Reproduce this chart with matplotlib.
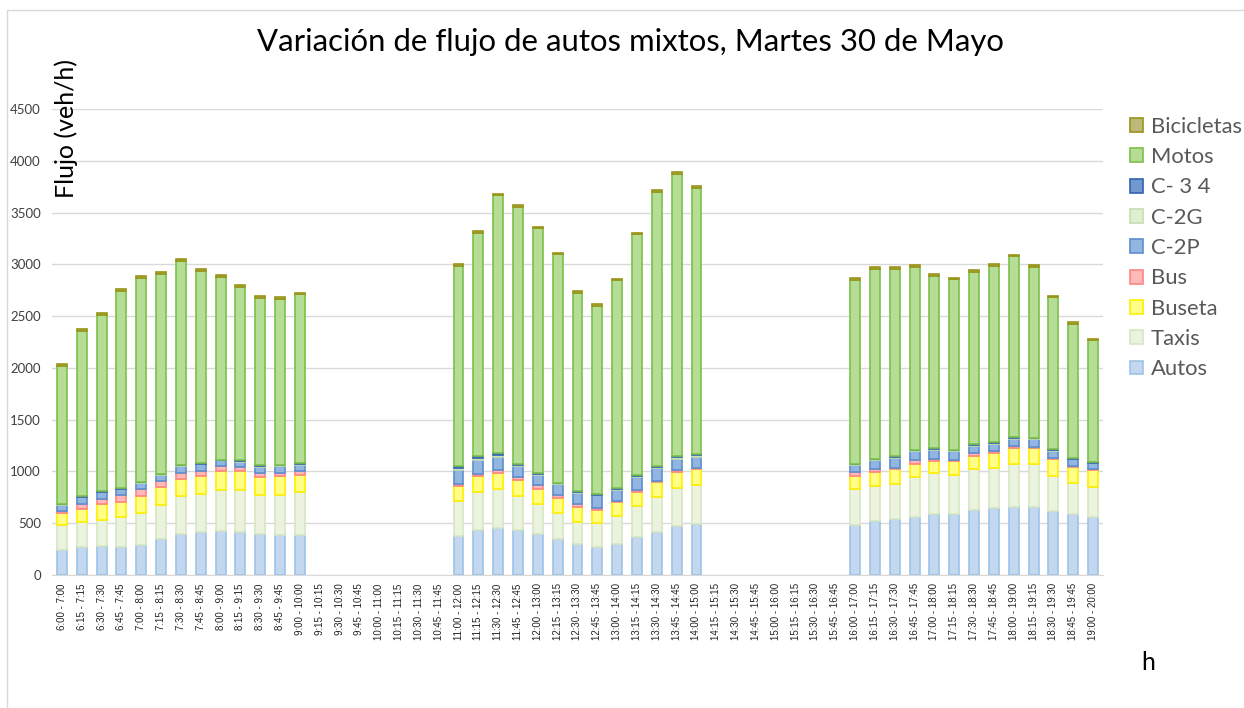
import matplotlib
matplotlib.use('Agg')
import matplotlib.pyplot as plt
import matplotlib.patches as mpatches
import numpy as np

# 15-min sliding one-hour intervals, 6:00 - 20:00
starts = ['6:00', '6:15', '6:30', '6:45', '7:00', '7:15', '7:30', '7:45', '8:00', '8:15', '8:30', '8:45',
          '9:00', '9:15', '9:30', '9:45', '10:00', '10:15', '10:30', '10:45', '11:00', '11:15', '11:30', '11:45',
          '12:00', '12:15', '12:30', '12:45', '13:00', '13:15', '13:30', '13:45', '14:00', '14:15', '14:30', '14:45',
          '15:00', '15:15', '15:30', '15:45', '16:00', '16:15', '16:30', '16:45', '17:00', '17:15', '17:30', '17:45',
          '18:00', '18:15', '18:30', '18:45', '19:00']
ends = ['7:00', '7:15', '7:30', '7:45', '8:00', '8:15', '8:30', '8:45', '9:00', '9:15', '9:30', '9:45',
        '10:00', '10:15', '10:30', '10:45', '11:00', '11:15', '11:30', '11:45', '12:00', '12:15', '12:30', '12:45',
        '13:00', '13:15', '13:30', '13:45', '14:00', '14:15', '14:30', '14:45', '15:00', '15:15', '15:30', '15:45',
        '16:00', '16:15', '16:30', '16:45', '17:00', '17:15', '17:30', '17:45', '18:00', '18:15', '18:30', '18:45',
        '19:00', '19:15', '19:30', '19:45', '20:00']
labels = [s + ' - ' + e for s, e in zip(starts, ends)]

# intervals that were counted
counted = ['6:00', '6:15', '6:30', '6:45', '7:00', '7:15', '7:30', '7:45', '8:00', '8:15', '8:30', '8:45', '9:00',
           '11:00', '11:15', '11:30', '11:45', '12:00', '12:15', '12:30', '12:45', '13:00', '13:15', '13:30', '13:45', '14:00',
           '16:00', '16:15', '16:30', '16:45', '17:00', '17:15', '17:30', '17:45', '18:00', '18:15', '18:30', '18:45', '19:00']

autos = [240, 266, 276, 272, 288, 343, 397, 417, 426, 417, 397, 388, 388,
         375, 436, 455, 436, 397, 343, 298, 272, 304, 369, 420, 471, 494,
         487, 522, 538, 561, 593, 593, 625, 651, 657, 657, 615, 593, 561]
taxis = [244, 247, 259, 289, 311, 333, 366, 368, 398, 407, 375, 384, 410,
         340, 365, 375, 330, 289, 256, 218, 231, 270, 301, 333, 372, 378,
         343, 340, 340, 381, 391, 372, 394, 384, 414, 414, 340, 295, 288]
buseta = [115, 122, 151, 147, 164, 173, 160, 170, 176, 176, 177, 183, 167,
          144, 154, 154, 154, 144, 148, 141, 128, 128, 134, 148, 151, 147,
          125, 135, 141, 132, 119, 134, 132, 145, 153, 153, 164, 154, 161]
bus = [23, 54, 48, 61, 64, 58, 58, 51, 51, 42, 32, 32, 35,
       22, 23, 26, 29, 42, 29, 29, 20, 13, 20, 9, 16, 16,
       39, 22, 19, 32, 19, 13, 29, 22, 26, 16, 12, 12, 9]
c2p = [51, 61, 64, 58, 58, 58, 67, 64, 55, 54, 61, 64, 67,
       135, 128, 128, 102, 96, 102, 109, 118, 109, 121, 122, 109, 109,
       67, 93, 93, 93, 86, 87, 67, 67, 61, 71, 71, 65, 61]
c2g = [8, 8, 8, 8, 10, 8, 10, 6, 5, 8, 10, 10, 8,
       22, 26, 22, 15, 10, 8, 8, 6, 7, 10, 10, 20, 16,
       8, 8, 10, 5, 10, 7, 8, 10, 12, 8, 7, 5, 6]
c34 = [5, 5, 5, 5, 6, 5, 6, 4, 4, 5, 6, 6, 5,
       17, 19, 16, 8, 6, 5, 5, 4, 5, 7, 6, 12, 10,
       5, 5, 6, 4, 6, 5, 8, 6, 7, 5, 6, 4, 4]
motos = [1336, 1590, 1697, 1898, 1965, 1925, 1968, 1856, 1763, 1672, 1620, 1595, 1630,
         1927, 2152, 2492, 2475, 2363, 2206, 1919, 1822, 2009, 2328, 2655, 2718, 2569,
         1773, 1834, 1812, 1769, 1668, 1646, 1663, 1702, 1746, 1654, 1466, 1293, 1175]
bicicletas = [20, 18, 18, 22, 18, 20, 16, 16, 16, 16, 16, 18, 16,
              18, 20, 16, 22, 18, 16, 18, 18, 16, 16, 16, 18, 16,
              18, 18, 18, 20, 18, 14, 16, 16, 14, 16, 16, 18, 16]

series = [
    ('Autos', autos, '#c3d8ef', '#9dc3e6'),
    ('Taxis', taxis, '#ebf3df', '#d6e6c3'),
    ('Buseta', buseta, '#ffff88', '#ffee00'),
    ('Bus', bus, '#ffb9b9', '#ff8585'),
    ('C-2P', c2p, '#93b6e0', '#5b8fd0'),
    ('C-2G', c2g, '#e0eed2', '#c6dfae'),
    ('C- 3 4', c34, '#7199d0', '#2f62b0'),
    ('Motos', motos, '#b5dd96', '#7cc14a'),
    ('Bicicletas', bicicletas, '#bdb978', '#9a9418'),
]

x = np.array([starts.index(s) for s in counted])
width = 0.5
font = ['Lato', 'DejaVu Sans']

fig = plt.figure(figsize=(12.44, 7.08), dpi=100)
ax = fig.add_axes([52 / 1244, 1 - 575 / 708, (1103 - 52) / 1244, (575 - 109) / 708])

bottom = np.zeros(len(counted))
handles = []
for name, vals, fc, ec in series:
    vals = np.array(vals, dtype=float)
    b = ax.bar(x, vals, width, bottom=bottom, color=fc, edgecolor=ec, linewidth=1.2, label=name, zorder=3)
    handles.append(b)
    bottom += vals

ax.set_xlim(-0.5, len(labels) - 0.5)
ax.set_ylim(0, 4500)
ax.set_yticks(np.arange(0, 4501, 500))
ax.set_xticks(np.arange(len(labels)))
ax.set_xticklabels(labels, rotation=90, fontsize=7, color='#222222', family=['Liberation Sans', 'DejaVu Sans'])
ax.tick_params(axis='y', labelsize=9.5, colors='#404040', length=0, pad=8)
ax.tick_params(axis='x', length=0, pad=6)
for t in ax.get_yticklabels():
    t.set_family(font)
ax.grid(axis='y', color='#d9d9d9', linewidth=1, zorder=0)
for s in ['top', 'right', 'left']:
    ax.spines[s].set_visible(False)
ax.spines['bottom'].set_color('#d9d9d9')

fig.text(630 / 1244, 1 - 42 / 708, 'Variación de flujo de autos mixtos, Martes 30 de Mayo',
         ha='center', va='center', fontsize=22.4, family=font)
fig.text(66 / 1244, 1 - 128 / 708, 'Flujo (veh/h)', rotation=90, ha='center', va='center',
         fontsize=18, family=font)
fig.text(1148 / 1244, 1 - 662 / 708, 'h', ha='center', va='center', fontsize=18, family=font)

fig.legend(handles=handles[::-1], loc='upper left', bbox_to_anchor=(1110 / 1244, 1 - 97 / 708),
           frameon=False, labelspacing=0.47, handlelength=0.6, handleheight=0.6,
           handletextpad=0.35, labelcolor='#595959', prop={'family': font, 'size': 15.8})

# chart area border
fig.patches.append(mpatches.Rectangle((7 / 1244, -0.02), 1.1, 1 - 10 / 708 + 0.02, transform=fig.transFigure,
                                      fill=False, edgecolor='#d9d9d9', linewidth=1))

fig.savefig('out.png', dpi=100)
